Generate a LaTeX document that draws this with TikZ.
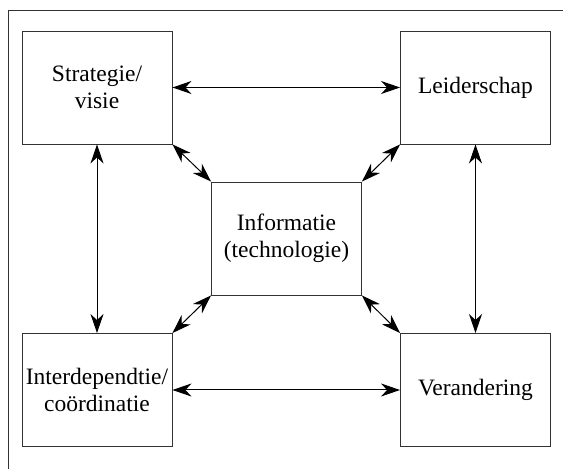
\documentclass[tikz,border=0pt]{standalone}
\usepackage{fontspec}
\setmainfont{Liberation Serif}
\usetikzlibrary{arrows.meta,positioning}
\definecolor{edge}{HTML}{333333}
\tikzset{
  frame/.style={draw=edge, line width=0.9pt},
  box/.style={draw=edge, line width=0.9pt, minimum width=150pt, minimum height=113pt,
    inner sep=0pt, align=center, font=\fontsize{23.5}{27}\selectfont},
  link/.style={draw=black, line width=1pt, {Stealth[length=19pt,width=13pt,inset=6pt]}-{Stealth[length=19pt,width=13pt,inset=6pt]}},
}
\begin{document}
\begin{tikzpicture}[x=1pt,y=1pt]
\useasboundingbox (0,0) rectangle (563,469);
\draw[frame] (563,459) -- (8,459) -- (8,0);

\node[box] (strat)  at ( 97.0,381.5) {Strategie/\\visie};
\node[box] (leider) at (475.5,381.5) {Leiderschap};
\node[box] (info)   at (286.5,230.5) {Informatie\\(technologie)};
\node[box] (inter)  at ( 97.0, 79.0) {Interdependtie/\\coördinatie};
\node[box] (veran)  at (475.5, 79.0) {Verandering};

\draw[link] (strat) -- (leider);
\draw[link] (strat) -- (inter);
\draw[link] (leider) -- (veran);
\draw[link] (inter) -- (veran);

\draw[link] (strat.south east) -- (info.north west);
\draw[link] (leider.south west) -- (info.north east);
\draw[link] (inter.north east) -- (info.south west);
\draw[link] (veran.north west) -- (info.south east);
\end{tikzpicture}
\end{document}
